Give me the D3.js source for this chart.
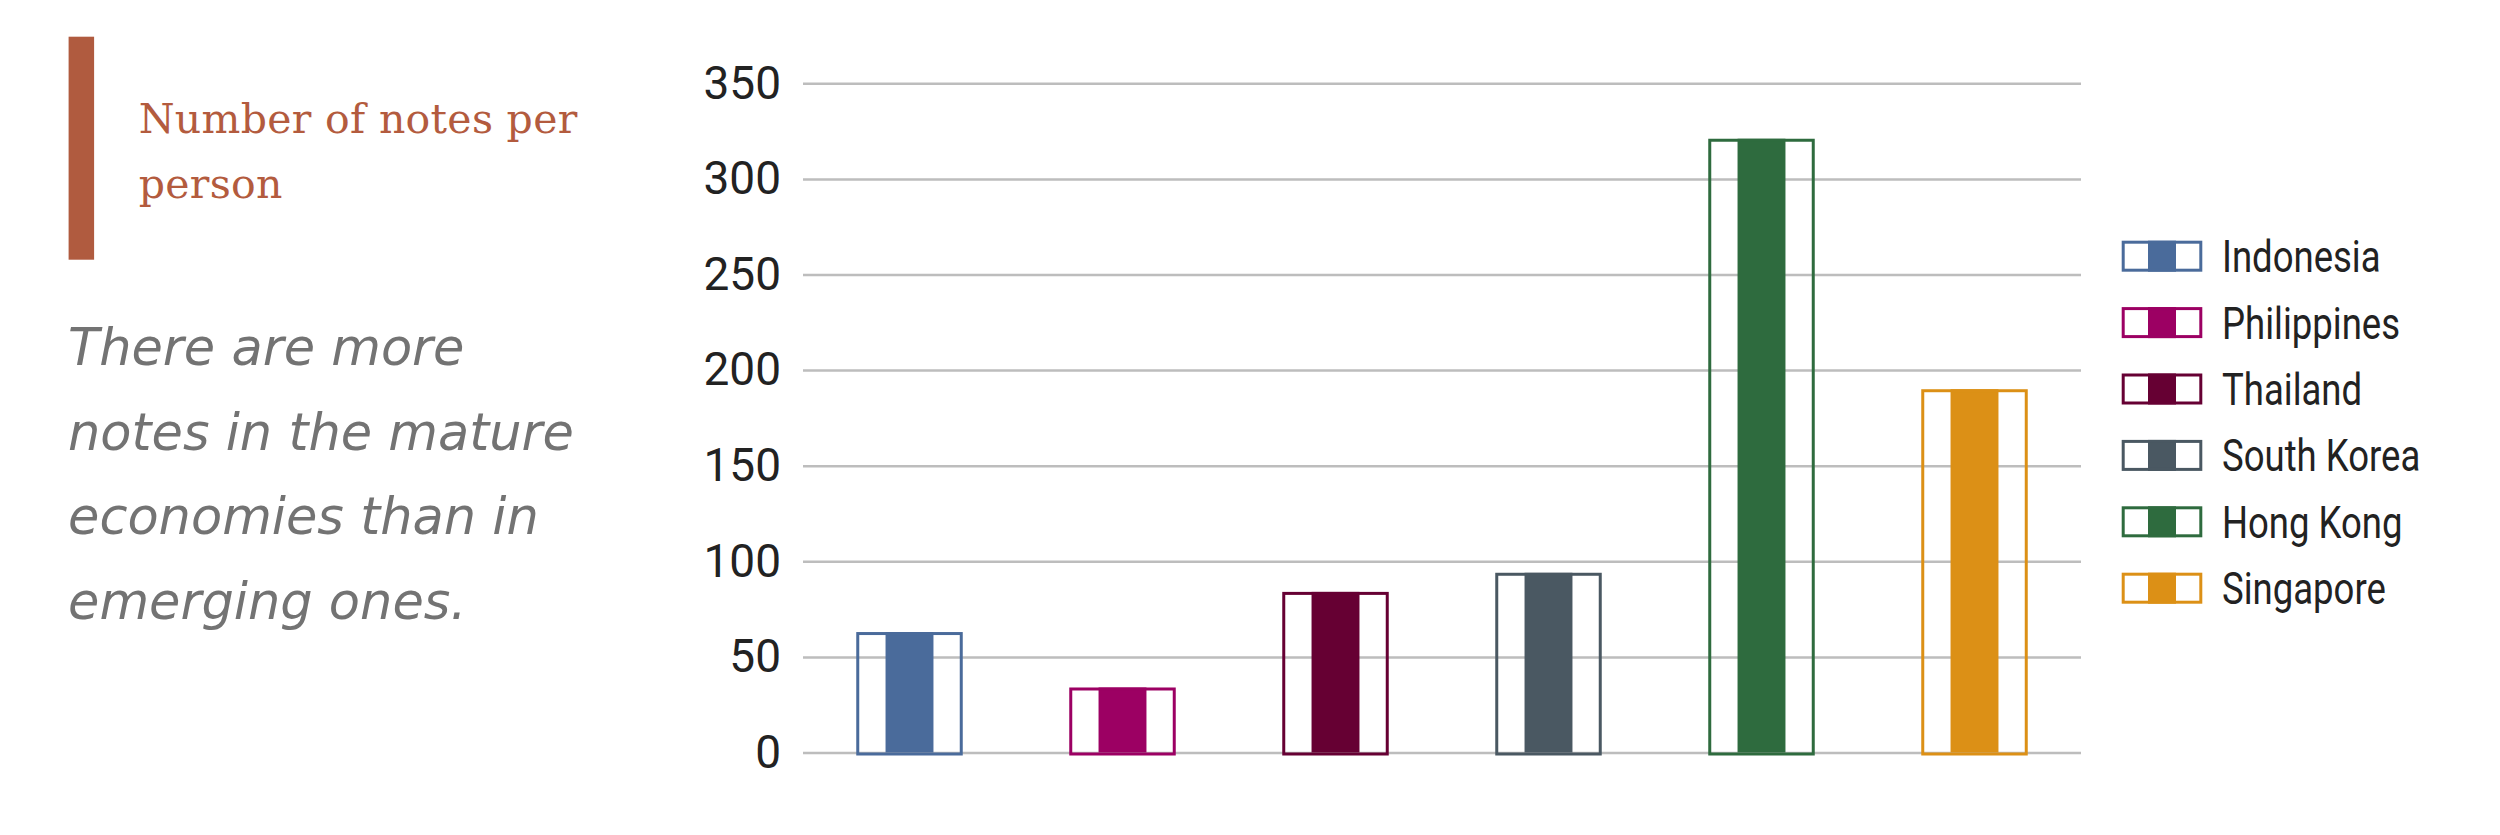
<!DOCTYPE html>
<html><head><meta charset="utf-8">
<script src="https://cdn.jsdelivr.net/npm/d3@7"></script>
<style>body{margin:0;background:#fff;} svg{display:block}</style>
</head><body><svg id="c" width="2500" height="835"></svg>
<script>
const categories = ["Indonesia","Philippines","Thailand","South Korea","Hong Kong","Singapore"];
const notesPerPerson = [63,34,84,94,321,190];
const colors = ["#4a6b9b","#9c0063","#660033","#4a5862","#2e6b3e","#dc9016"];
const yTicks = [0,50,100,150,200,250,300,350];
const titleLines = ["Number of notes per","person"];
const noteLines = ["There are more","notes in the mature","economies than in","emerging ones."];

const svg = d3.select("#c");
const X0 = 803, X1 = 2081, Y0 = 752.5, Y1 = 83.3;
const x = d3.scaleBand().domain(categories).range([X0, X1]).paddingInner(0.5).paddingOuter(0.25);
const y = d3.scaleLinear().domain([0, 350]).range([Y0, Y1]);
const color = d3.scaleOrdinal().domain(categories).range(colors);

// Left title block
svg.append("rect").attr("x",68.6).attr("y",36.7).attr("width",25.5).attr("height",223).attr("fill","#b05b3f");
svg.append("g").selectAll("text").data(titleLines).join("text")
  .attr("x",138.7).attr("y",(d,i)=>133+i*65)
  .attr("font-family","DejaVu Serif").attr("font-size",41).attr("fill","#b35b3e")
  .attr("letter-spacing",0.3)
  .text(d=>d);
svg.append("g").selectAll("text").data(noteLines).join("text")
  .attr("x",68).attr("y",(d,i)=>365+i*84.5)
  .attr("font-family","DejaVu Sans").attr("font-style","italic")
  .attr("font-size",51).attr("fill","#737373")
  .text(d=>d);

// Y axis with gridlines
const yAxis = d3.axisLeft(y).tickValues(yTicks).tickSize(-(X1-X0)).tickPadding(22).tickFormat(d3.format("d"));
const ga = svg.append("g").attr("transform",`translate(${X0},0)`).call(yAxis);
ga.select(".domain").remove();
ga.selectAll(".tick line").attr("stroke","#bdbdbd").attr("stroke-width",2.5);
ga.selectAll(".tick text").attr("font-family","Roboto").attr("font-size",46).attr("fill","#222");

// Bars
const sw = 3;
const bars = svg.append("g").selectAll("g").data(categories).join("g");
bars.append("rect")
  .attr("x",d=>x(d)+x.bandwidth()*0.5 - x.bandwidth()*0.225)
  .attr("width",x.bandwidth()*0.45)
  .attr("y",(d,i)=>y(notesPerPerson[i]))
  .attr("height",(d,i)=>y(0)-y(notesPerPerson[i]))
  .attr("fill",d=>color(d));
bars.append("rect")
  .attr("x",d=>x(d)+sw/2).attr("width",x.bandwidth()-sw)
  .attr("y",(d,i)=>y(notesPerPerson[i])+sw/2)
  .attr("height",(d,i)=>y(0)-y(notesPerPerson[i]))
  .attr("fill","none").attr("stroke",d=>color(d)).attr("stroke-width",sw);

// Legend
const LX = 2121.7, LY = 240.7, LS = 66.4, LW = 80.6, LH = 31;
const lg = svg.append("g").selectAll("g").data(categories).join("g")
  .attr("transform",(d,i)=>`translate(${LX},${LY+i*LS})`);
lg.append("rect").attr("x",LW/2-14).attr("width",28).attr("y",0).attr("height",LH).attr("fill",d=>color(d));
lg.append("rect").attr("x",sw/2).attr("y",sw/2).attr("width",LW-sw).attr("height",LH-sw)
  .attr("fill","none").attr("stroke",d=>color(d)).attr("stroke-width",sw);
lg.append("text").attr("transform",`translate(${2222-LX},${LH+0.5}) scale(0.83,1)`)
  .attr("font-family","Roboto").attr("font-size",44).attr("fill","#222")
  .text(d=>d);
</script></body></html>
